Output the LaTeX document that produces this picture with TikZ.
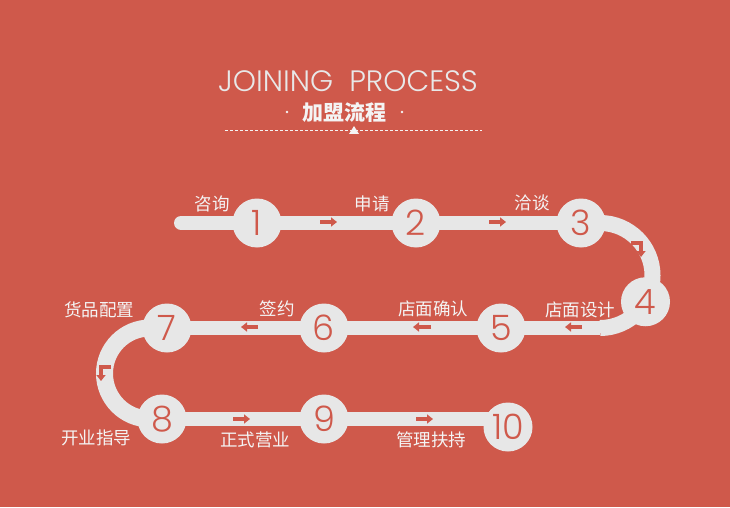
\documentclass[tikz,border=0pt]{standalone}
\usepackage{fontspec}
\usetikzlibrary{arrows.meta}
\setmainfont{Noto Sans CJK SC}
\newfontfamily\thinfont{Poppins Light}
\definecolor{brick}{RGB}{207,89,75}
\definecolor{pale}{RGB}{231,231,231}
\definecolor{snow}{RGB}{244,244,244}
\pgfdeclarelayer{bg}
\pgfdeclarelayer{track}
\pgfsetlayers{bg,track,main}

\begin{document}
\begin{tikzpicture}[x=1pt,y=1pt,
  stepdot/.style={circle,fill=pale,minimum size=49pt,inner sep=0pt,text=brick,
                  font=\thinfont\fontsize{35}{35}\selectfont},
  track/.style={pale,line width=14pt},
  steptext/.style={text=snow,font=\fontsize{17.5}{17.5}\selectfont},
  hint/.style={brick,line width=3.5pt,-{Triangle[length=6pt,width=9pt]}}]

  \begin{pgfonlayer}{bg}
    \fill[brick] (0,0) rectangle (730,507);
  \end{pgfonlayer}

  % heading
  \node[anchor=base,text=snow!95!black,font=\thinfont\fontsize{29.5}{29.5}\selectfont] (title) at (348,415) {JOINING\ \ PROCESS};
  \node[text=snow,font=\bfseries\fontsize{21}{21}\selectfont] (sub) at (344,395) {加盟流程};
  \fill[snow] (287,395) circle (1.4) (402,395) circle (1.4);
  \draw[snow,line width=1pt,dash pattern=on 3pt off 2pt] (225,376) -- (482,376);
  \fill[snow] (349,373) -- (359,373) -- (354,381) -- cycle;

  % steps
  \foreach \n/\x/\y in {1/257/284,2/416/284,3/581/284,4/645.5/205.25,5/501/179,
                        6/324/179,7/167/179,8/162/88,9/324/88,10/508/80}{
     \node[stepdot] (c\n) at (\x,\y) {\n};
  }
  \coordinate (start) at (181,284);

  \begin{pgfonlayer}{track}
    \draw[track,line cap=round] (start) -- (c1.center) -- (c2.center) -- (c3.center) -- (600,284);
    \draw[track,line width=16pt] (600,284) arc[start angle=90,end angle=-90,radius=52.5];  % through 4
    \draw[track] (600,179) -- (c5.center) -- (c6.center) -- (c7.center) -- (150,179);
    \draw[track,line width=17pt] (150,179) arc[start angle=90,end angle=270,radius=45.5];
    \draw[track] (150,88) -- (c8.center) -- (c9.center) -- (c9.center -| c10.center);
  \end{pgfonlayer}

  % direction marks
  \draw[hint] (320,285) -- (337,285);
  \draw[hint] (489,285) -- (506,285);
  \draw[hint,line width=3.2pt] (631,264) -- (641,264) -- (641,250);
  \draw[hint] (582,180) -- (565,180);
  \draw[hint] (431,180) -- (413,180);
  \draw[hint] (258,180) -- (241,180);
  \draw[hint,line width=3.2pt] (111,140) -- (101,140) -- (101,126);
  \draw[hint] (233,88) -- (250,88);
  \draw[hint] (416,88) -- (433,88);

  % step names
  \foreach \n/\x/\y/\t in {1/212/303/咨询,2/372/303/申请,3/532/304/洽谈,4/580/197/店面设计,
                           5/433/198/店面确认,6/277/198/签约,7/99/197/货品配置,
                           8/96/69/开业指导,9/255/67/正式营业,10/431/67/管理扶持}{
     \node[steptext] (l\n) at (\x,\y) {\t};
  }

\end{tikzpicture}
\end{document}
